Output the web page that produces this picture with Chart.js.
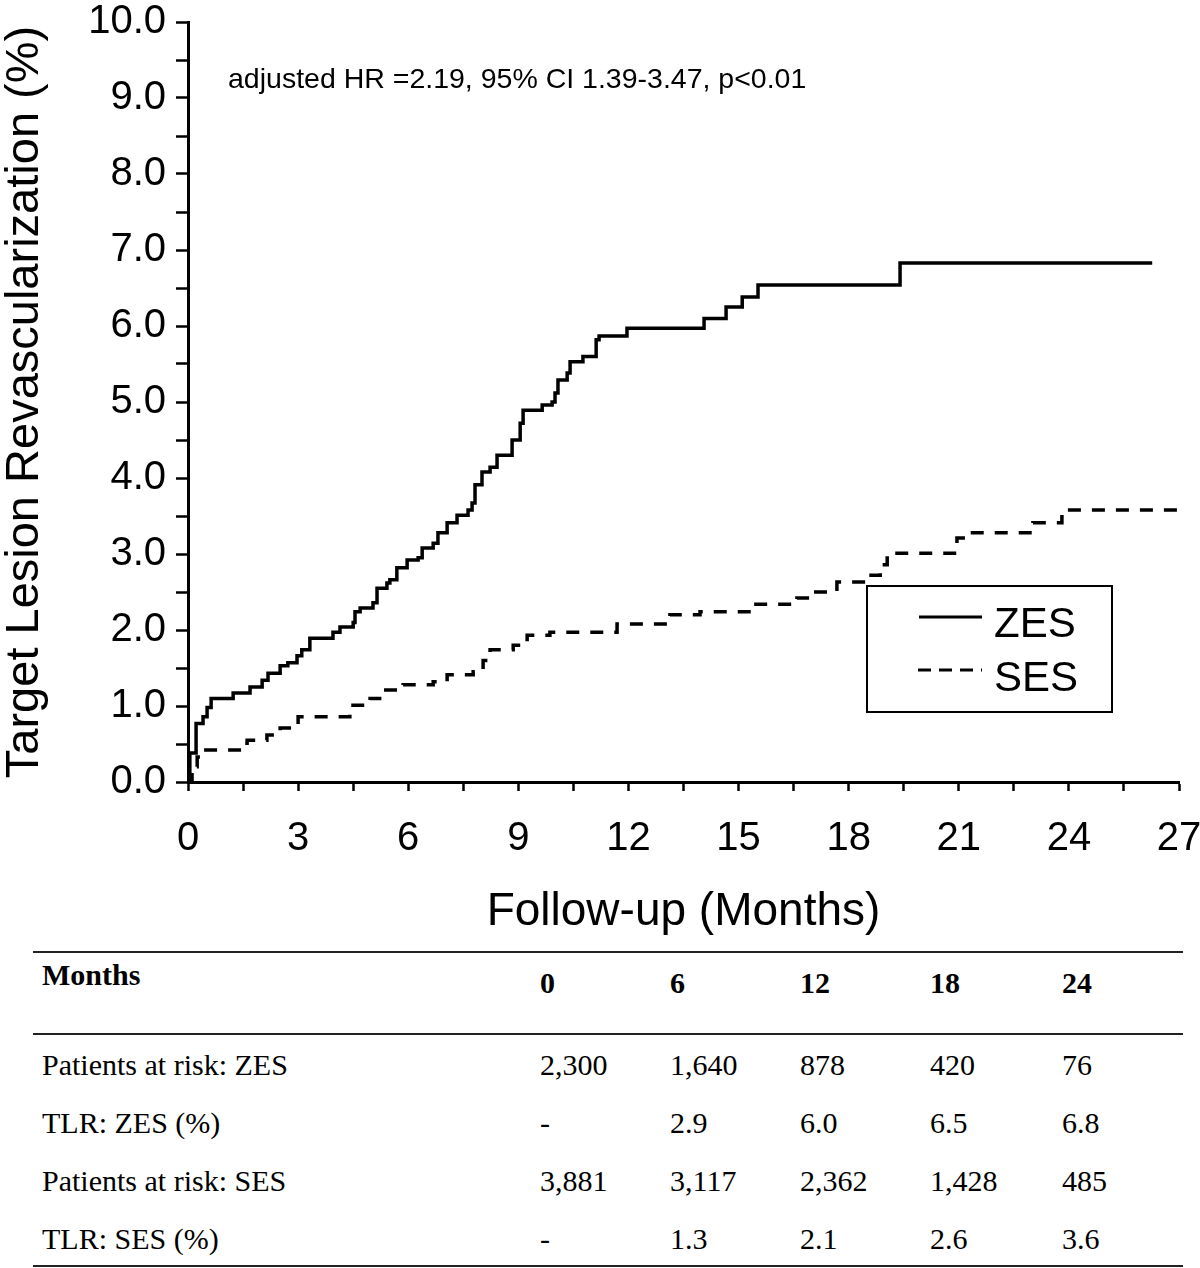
<!DOCTYPE html>
<html>
<head>
<meta charset="utf-8">
<script src="https://cdn.jsdelivr.net/npm/chart.js@4.4.1/dist/chart.umd.min.js"></script>
<style>
  body { margin: 0; background: #fff; }
  #page { position: relative; width: 1200px; height: 1268px; overflow: hidden; font-family: "Liberation Sans", Arial, sans-serif; }
  #chartBox { position: absolute; left: 0; top: 0; width: 1200px; height: 940px; }
  .abs { position: absolute; white-space: nowrap; color: #000; }
  .tbl { font-family: "Liberation Serif", "Times New Roman", serif; font-size: 30px; line-height: 30px; }
  .rule { position: absolute; left: 33px; width: 1150px; height: 2px; background: #222; }
</style>
</head>
<body>
<div id="page">
  <div id="chartBox"><canvas id="km"></canvas></div>
  <div class="abs" id="note" style="left:228px; top:64px; font-size:28.5px; line-height:28px;">adjusted HR =2.19, 95% CI 1.39-3.47, p&lt;0.01</div>
  <div class="abs" style="left:866px; top:585px; width:247px; height:128px; border:2px solid #000; box-sizing:border-box;"></div>
  <svg class="abs" style="left:0; top:0;" width="1200" height="940">
    <line x1="919" y1="617" x2="982" y2="617" stroke="#000" stroke-width="3"/>
    <line x1="918" y1="670" x2="982" y2="670" stroke="#000" stroke-width="3" stroke-dasharray="13 8"/>
  </svg>
  <div class="abs" style="left:994px; top:602px; font-size:42px; line-height:42px;">ZES</div>
  <div class="abs" style="left:994px; top:656px; font-size:42px; line-height:42px;">SES</div>
  <div id="table"></div>
</div>
<script>
// Kaplan-Meier step points (months, cumulative TLR %)
const zesMonths = [0, 0.05, 0.22, 0.41, 0.52, 0.63, 1.23, 1.69, 2.02, 2.18, 2.51, 2.72, 2.97, 3.1, 3.32,
  3.95, 4.14, 4.5, 4.55, 4.69, 5.04, 5.15, 5.42, 5.5, 5.69, 5.97, 6.27, 6.38, 6.68, 6.81, 7.06,
  7.33, 7.63, 7.74, 7.82, 8.01, 8.23, 8.42, 8.83, 9.05, 9.13, 9.65, 9.92, 10.0, 10.08, 10.33,
  10.41, 10.76, 11.12, 11.2, 11.96, 14.06, 14.66, 15.1, 15.53, 19.4, 26.27];
const zesValues = [0, 0.38, 0.77, 0.86, 0.98, 1.1, 1.17, 1.25, 1.34, 1.43, 1.53, 1.57, 1.66, 1.74, 1.89,
  1.97, 2.04, 2.1, 2.24, 2.29, 2.36, 2.55, 2.62, 2.66, 2.82, 2.92, 2.95, 3.08, 3.14, 3.28, 3.41,
  3.51, 3.58, 3.67, 3.91, 4.08, 4.14, 4.3, 4.5, 4.72, 4.89, 4.96, 5.0, 5.12, 5.29, 5.38,
  5.53, 5.6, 5.82, 5.87, 5.97, 6.1, 6.25, 6.38, 6.54, 6.83, 6.83];

const sesMonths = [0, 0.11, 0.25, 0.41, 1.47, 1.61, 2.15, 2.51, 3.0, 4.41, 4.96, 5.31, 5.86, 6.68, 7.06,
  7.77, 8.04, 8.23, 8.86, 9.24, 9.86, 11.69, 13.13, 13.95, 15.4, 16.59, 16.95, 17.68, 18.5, 18.86,
  19.05, 20.95, 21.12, 23.02, 23.81, 26.95];
const sesValues = [0, 0.2, 0.33, 0.42, 0.51, 0.55, 0.62, 0.71, 0.86, 1.01, 1.1, 1.21, 1.28, 1.32, 1.41,
  1.45, 1.6, 1.74, 1.8, 1.93, 1.97, 2.08, 2.2, 2.24, 2.34, 2.42, 2.5, 2.63, 2.72, 2.86,
  3.01, 3.21, 3.28, 3.41, 3.58, 3.58];

// Risk table
const tableMonths = ['0', '6', '12', '18', '24'];
const rowLabels = ['Patients at risk: ZES', 'TLR: ZES (%)', 'Patients at risk: SES', 'TLR: SES (%)'];
const atRiskZES = ['2,300', '1,640', '878', '420', '76'];
const tlrZES = ['-', '2.9', '6.0', '6.5', '6.8'];
const atRiskSES = ['3,881', '3,117', '2,362', '1,428', '485'];
const tlrSES = ['-', '1.3', '2.1', '2.6', '3.6'];

function toPoints(xs, ys) {
  return xs.map((x, i) => ({ x: x, y: ys[i] }));
}

Chart.defaults.font.family = '"Liberation Sans", Arial, sans-serif';
Chart.defaults.color = '#000';

new Chart(document.getElementById('km').getContext('2d'), {
  type: 'line',
  data: {
    datasets: [{
      label: 'ZES',
      data: toPoints(zesMonths, zesValues),
      stepped: true,
      borderColor: '#000',
      borderWidth: 3.5,
      pointRadius: 0,
      fill: false
    }, {
      label: 'SES',
      data: toPoints(sesMonths, sesValues),
      stepped: true,
      borderColor: '#000',
      borderWidth: 3.5,
      borderDash: [13, 11],
      pointRadius: 0,
      fill: false
    }]
  },
  options: {
    responsive: true,
    maintainAspectRatio: false,
    animation: false,
    layout: { padding: { top: 22, right: 21, left: 0, bottom: 0 } },
    plugins: {
      legend: { display: false },
      tooltip: { enabled: false }
    },
    scales: {
      x: {
        type: 'linear',
        min: 0,
        max: 27,
        afterFit: (scale) => {
          scale.height = 158;
          scale.paddingLeft = 0;
          scale.paddingRight = 0;
        },
        border: { color: '#000', width: 3 },
        grid: { drawOnChartArea: false, color: '#000', tickLength: 9, tickWidth: 2.5 },
        ticks: {
          stepSize: 1.5,
          autoSkip: false,
          maxRotation: 0,
          padding: 28,
          font: { size: 40, lineHeight: 1 },
          callback: (v) => (Math.abs(v / 3 - Math.round(v / 3)) < 1e-6 ? String(Math.round(v)) : '')
        },
        title: {
          display: true,
          text: 'Follow-up (Months)',
          font: { size: 46, lineHeight: 1 },
          padding: { top: 0, bottom: 5 }
        }
      },
      y: {
        min: 0,
        max: 10,
        afterFit: (scale) => {
          scale.width = 188;
          scale.paddingTop = 0;
          scale.paddingBottom = 0;
        },
        border: { color: '#000', width: 3 },
        grid: { drawOnChartArea: false, color: '#000', tickLength: 12, tickWidth: 2.5 },
        ticks: {
          stepSize: 0.5,
          autoSkip: false,
          padding: 10,
          font: { size: 40, lineHeight: 1 },
          callback: (v) => (Number.isInteger(v) ? v.toFixed(1) : '')
        },
        title: {
          display: true,
          text: 'Target Lesion Revascularization (%)',
          font: { size: 47, lineHeight: 1 },
          padding: { top: 2, bottom: 0 }
        }
      }
    }
  }
});

// Build the risk table underneath the chart
const table = document.getElementById('table');
const colX = [540, 670, 800, 930, 1062];
function addText(txt, x, top, bold) {
  const d = document.createElement('div');
  d.className = 'abs tbl';
  d.style.left = x + 'px';
  d.style.top = top + 'px';
  if (bold) d.style.fontWeight = 'bold';
  d.textContent = txt;
  table.appendChild(d);
}
[951, 1033, 1265].forEach(y => {
  const r = document.createElement('div');
  r.className = 'rule';
  r.style.top = y + 'px';
  table.appendChild(r);
});
addText('Months', 42, 960, true);
tableMonths.forEach((m, i) => addText(m, colX[i], 968, true));
const rows = [atRiskZES, tlrZES, atRiskSES, tlrSES];
rows.forEach((vals, r) => {
  const top = 1050 + r * 58;
  addText(rowLabels[r], 42, top, false);
  vals.forEach((v, i) => addText(v, colX[i], top, false));
});
</script>
</body>
</html>
